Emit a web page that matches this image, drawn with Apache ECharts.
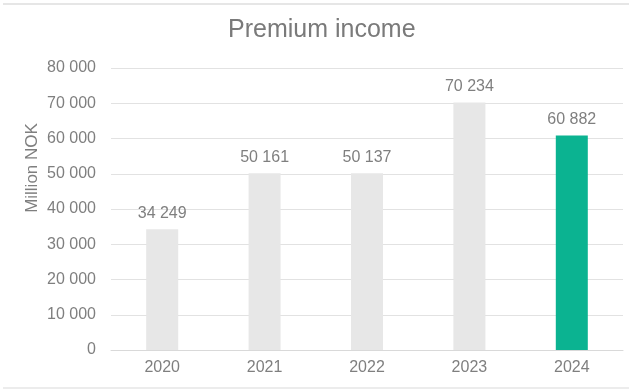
<!DOCTYPE html>
<html>
<head>
<meta charset="utf-8">
<script src="https://cdn.jsdelivr.net/npm/echarts@6/dist/echarts.min.js"></script>
<style>
  html, body { margin: 0; padding: 0; background: #ffffff; }
  #chart { width: 632px; height: 389px; }
</style>
</head>
<body>
<div id="chart"></div>
<script>
// Premium income per year, million NOK
const years = ['2020', '2021', '2022', '2023', '2024'];
const premiumIncome = [34249, 50161, 50137, 70234, 60882];
const yTicks = [0, 10000, 20000, 30000, 40000, 50000, 60000, 70000, 80000];

const textGray = '#7f7f7f';
const barGray = '#e7e7e7';
const highlight = '#0bb391';

// Norwegian-style thousands separator: "34 249"
function fmt(v) {
  return String(v).replace(/\B(?=(\d{3})+(?!\d))/g, ' ');
}

const chart = echarts.init(document.getElementById('chart'), null, { renderer: 'canvas' });

chart.setOption({
  animation: false,
  backgroundColor: '#ffffff',
  title: {
    text: 'Premium income',
    left: 228,
    top: 18,
    padding: 0,
    textStyle: {
      fontFamily: 'Liberation Sans, Arial, sans-serif',
      fontSize: 25,
      fontWeight: 'normal',
      color: '#7a7a7a'
    }
  },
  graphic: [
    { type: 'line', shape: { x1: 3, y1: 4, x2: 629, y2: 4 }, style: { stroke: '#e6e6e6', lineWidth: 2 } },
    { type: 'line', shape: { x1: 3, y1: 388, x2: 629, y2: 388 }, style: { stroke: '#e6e6e6', lineWidth: 1.5 } }
  ],
  grid: { left: 111, right: 9, top: 68, bottom: 39 },
  xAxis: {
    type: 'category',
    data: years,
    axisTick: { show: false },
    axisLine: { show: true, lineStyle: { color: '#d9d9d9', width: 1 } },
    axisLabel: {
      margin: 10,
      fontFamily: 'Liberation Sans, Arial, sans-serif',
      fontSize: 16,
      color: textGray
    }
  },
  yAxis: {
    type: 'value',
    min: yTicks[0],
    max: yTicks[yTicks.length - 1],
    interval: yTicks[1] - yTicks[0],
    name: 'Million NOK',
    nameLocation: 'middle',
    nameGap: 70,
    nameMoveOverlap: false,
    nameTextStyle: {
      fontFamily: 'Liberation Sans, Arial, sans-serif',
      fontSize: 17,
      color: textGray,
      padding: [0, 0, 0, 82]
    },
    axisLine: { show: false },
    axisTick: { show: false },
    splitLine: { lineStyle: { color: '#e2e2e2', width: 1 } },
    axisLabel: {
      margin: 15,
      fontFamily: 'Liberation Sans, Arial, sans-serif',
      fontSize: 16,
      color: textGray,
      formatter: fmt
    }
  },
  series: [{
    type: 'bar',
    barWidth: 32,
    data: premiumIncome.map((v, i) => ({
      value: v,
      itemStyle: { color: i === premiumIncome.length - 1 ? highlight : barGray }
    })),
    label: {
      show: true,
      position: 'top',
      distance: 8,
      fontFamily: 'Liberation Sans, Arial, sans-serif',
      fontSize: 16,
      color: textGray,
      formatter: p => fmt(p.value)
    }
  }]
});
</script>
</body>
</html>
